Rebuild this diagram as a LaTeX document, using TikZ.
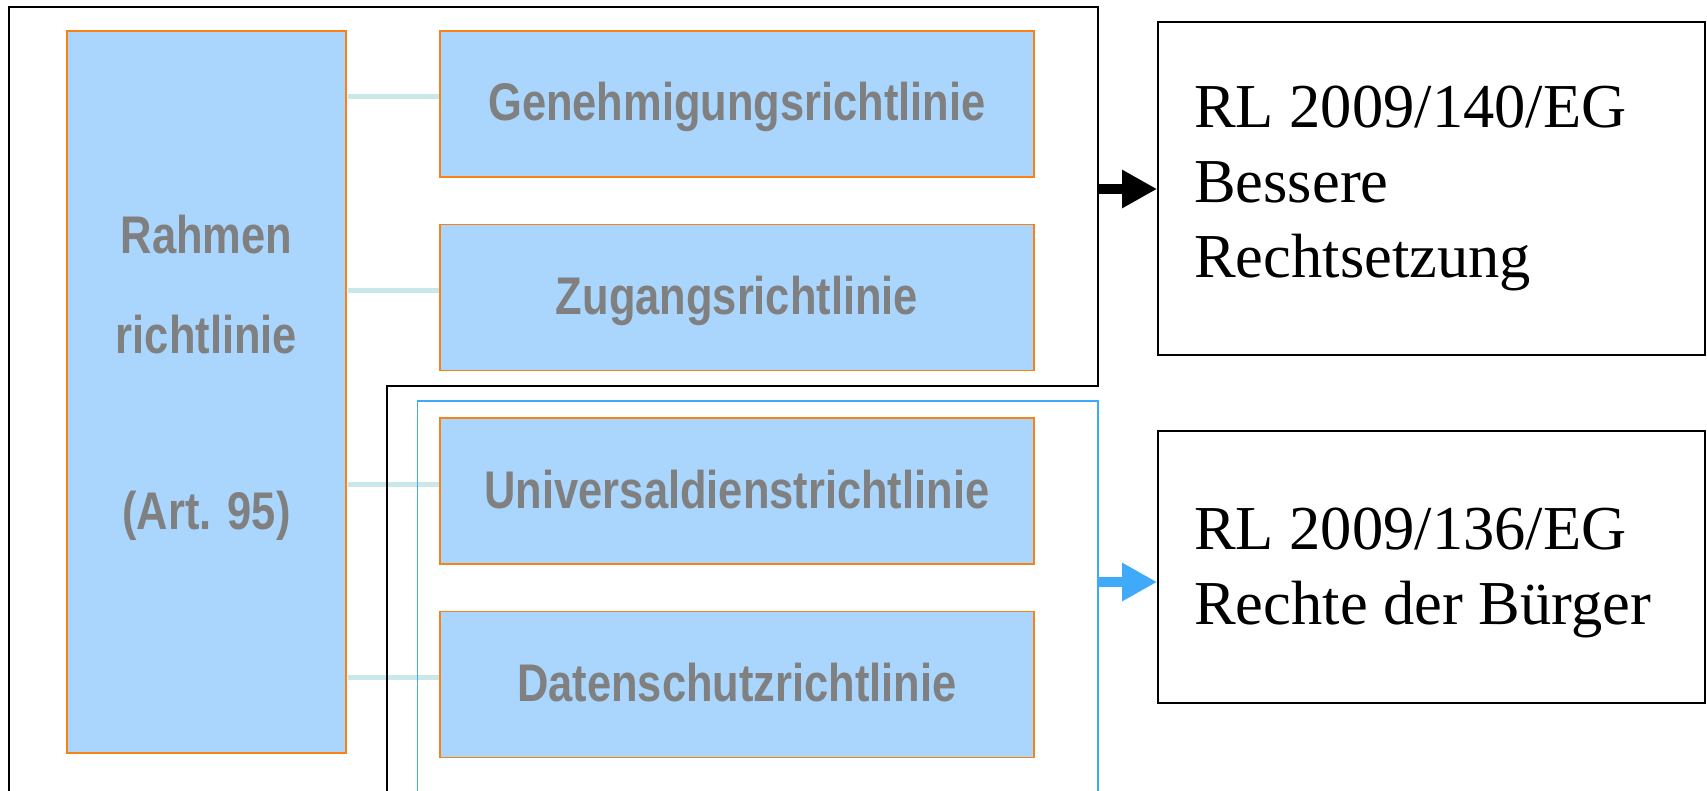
\documentclass[tikz,border=0pt]{standalone}
\usepackage{fontspec}
\setmainfont{Liberation Serif}
\newfontfamily\narrowsans[FakeStretch=0.82]{Liberation Sans}
\usetikzlibrary{arrows.meta,positioning}

\definecolor{boxfill}{RGB}{170,214,254}
\definecolor{boxline}{RGB}{250,130,20}
\definecolor{boxtext}{RGB}{128,128,128}
\definecolor{linkcol}{RGB}{200,232,234}
\definecolor{groupblue}{RGB}{64,170,250}

\begin{document}
\begin{tikzpicture}[
  x=1pt, y=-1pt,
  directive/.style={draw=boxline, line width=1.5pt, fill=boxfill, inner sep=0pt, minimum width=594pt, minimum height=146pt, text height=34pt, text depth=0pt, text=boxtext, font=\fontsize{53}{60}\selectfont\narrowsans\bfseries},
  lawbox/.style={draw, line width=1.8pt, inner sep=0pt, minimum width=547pt},
  lawtext/.style={anchor=base west, align=left, inner sep=0pt, font=\fontsize{62.5}{75}\selectfont},
  link/.style={draw=linkcol, line width=5pt, shorten >=0.75pt, shorten <=0.75pt},
  arrow/.style={-{Triangle[length=35pt,width=36pt]}, line width=10pt},
  node distance=46pt
]
\useasboundingbox (0,0) rectangle (1707,791);
\clip (0,0) rectangle (1707,791);

% framework directive and the four special directives
\node[draw=boxline, line width=1.5pt, fill=boxfill, inner sep=0pt, minimum width=279pt, minimum height=722pt] (rahmen) at (206.5,392) {};
\node[anchor=base, align=center, inner sep=0pt, text=boxtext, font=\fontsize{53}{100}\selectfont\narrowsans\bfseries] (rahmentext) at (206.5,529) {Rahmen\\richtlinie\\[76pt](Art. 95)};

\node[directive] (genehm) at (737,104) {Genehmigungsrichtlinie};
\node[directive, below=of genehm] (zugang) {Zugangsrichtlinie};
\node[directive, below=of zugang] (universal) {Universaldienstrichtlinie};
\node[directive, below=of universal] (datenschutz) {Datenschutzrichtlinie};

\foreach \dname in {genehm,zugang,universal,datenschutz}
  \draw[link] ([yshift=7pt]\dname.west -| rahmen.east) -- ([yshift=7pt]\dname.west);

% amending directives
\node[lawbox, minimum height=333pt] (rl140) at (1431.5,188.5) {};
\node[lawtext] (rl140text) at (1194,278) {RL 2009/140/EG\\Bessere\\Rechtsetzung};
\node[lawbox, minimum height=272pt] (rl136) at (1431.5,567) {};
\node[lawtext] (rl136text) at (1194,624) {RL 2009/136/EG\\Rechte der Bürger};

% groups
\draw[line width=2pt] (9,800) -- (9,7) -- (1098,7) -- (1098,386) -- (387,386) -- (387,800);
\draw[groupblue, line width=1.5pt] (417.5,800) -- (417.5,401) -- (1098,401) -- (1098,800);

\coordinate (outA) at (1098,189);
\coordinate (outB) at (1098,582);
\draw[arrow] (outA) -- (outA -| rl140.west);
\draw[arrow, groupblue] (outB) -- (outB -| rl136.west);
\end{tikzpicture}
\end{document}
